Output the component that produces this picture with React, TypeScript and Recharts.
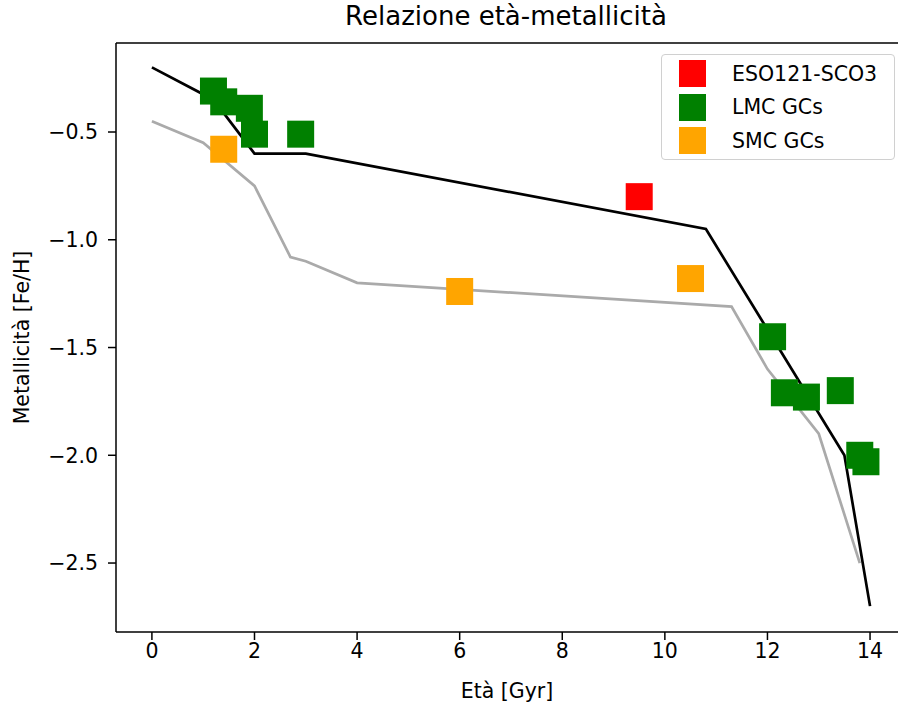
import { ComposedChart, Line, Scatter, XAxis, YAxis, Legend, ReferenceLine } from "recharts";

// relazione età-metallicità: modelli (linee) e ammassi osservati (quadrati)
const blackLine = [
  { x: 0, y: -0.2 },
  { x: 1.2, y: -0.35 },
  { x: 2, y: -0.6 },
  { x: 3, y: -0.6 },
  { x: 10.8, y: -0.95 },
  { x: 13.5, y: -2.0 },
  { x: 14, y: -2.7 },
];

const grayLine = [
  { x: 0, y: -0.45 },
  { x: 1, y: -0.55 },
  { x: 2, y: -0.75 },
  { x: 2.7, y: -1.08 },
  { x: 3, y: -1.1 },
  { x: 4, y: -1.2 },
  { x: 11.3, y: -1.31 },
  { x: 12, y: -1.6 },
  { x: 13, y: -1.9 },
  { x: 13.8, y: -2.5 },
];

const eso = [{ x: 9.5, y: -0.8 }];

const lmc = [
  { x: 1.2, y: -0.31 },
  { x: 1.4, y: -0.36 },
  { x: 1.9, y: -0.39 },
  { x: 2.0, y: -0.51 },
  { x: 2.9, y: -0.51 },
  { x: 12.1, y: -1.45 },
  { x: 12.33, y: -1.71 },
  { x: 12.76, y: -1.73 },
  { x: 13.42, y: -1.7 },
  { x: 13.8, y: -2.0 },
  { x: 13.92, y: -2.03 },
];

const smc = [
  { x: 1.4, y: -0.58 },
  { x: 6.0, y: -1.24 },
  { x: 10.5, y: -1.18 },
];

const xTicks = [0, 2, 4, 6, 8, 10, 12, 14];
const yTicks = [-2.5, -2.0, -1.5, -1.0, -0.5];

const series = [
  { name: "ESO121-SCO3", color: "#ff0000", data: eso },
  { name: "LMC GCs", color: "#008000", data: lmc },
  { name: "SMC GCs", color: "#ffa500", data: smc },
];

const xDomain = [-0.7, 14.545];
const yDomain = [-2.82, -0.087];

const font = "'DejaVu Sans', sans-serif";
const tickStyle = { fontSize: 20.5, fill: "#000", fontFamily: font };

const fmtY = (v: number) => (v < 0 ? "\u2212" : "") + Math.abs(v).toFixed(1);

const square = (color: string) => (p: any) => (
  <rect x={p.cx - 13.5} y={p.cy - 13.5} width={27} height={27} fill={color} />
);

const LegendBox = () => (
  <div
    style={{
      width: 234,
      height: 106,
      border: "1px solid #d0d0d0",
      borderRadius: 4,
      background: "rgba(255,255,255,0.8)",
      fontFamily: font,
      fontSize: 20.5,
      color: "#000",
      boxSizing: "border-box",
      paddingTop: 2,
    }}
  >
    {series.map((s) => (
      <div key={s.name} style={{ display: "flex", alignItems: "center", height: 33.5 }}>
        <div style={{ width: 27, height: 27, background: s.color, marginLeft: 17, marginRight: 26 }} />
        <span>{s.name}</span>
      </div>
    ))}
  </div>
);

const App = () => {
  return (
    <div style={{ position: "absolute", left: 0, top: 0, width: 898, height: 707 }}>
      <div
        style={{
          position: "absolute",
          top: 1,
          left: 106,
          width: 800,
          textAlign: "center",
          fontFamily: font,
          fontSize: 26,
          color: "#000",
        }}
      >
        Relazione età-metallicità
      </div>
      <ComposedChart width={898} height={707} margin={{ top: 43, right: 0, bottom: 0, left: 0 }}>
        <XAxis
          dataKey="x"
          type="number"
          domain={xDomain}
          allowDataOverflow
          ticks={xTicks}
          tick={tickStyle}
          tickSize={8}
          tickMargin={3}
          height={75}
          axisLine={{ stroke: "#000", strokeWidth: 1.5 }}
          tickLine={{ stroke: "#000", strokeWidth: 1.5 }}
          label={{ value: "Età [Gyr]", position: "insideBottom", offset: 9, style: tickStyle }}
        />
        <YAxis
          dataKey="y"
          type="number"
          domain={yDomain}
          allowDataOverflow
          ticks={yTicks}
          tickFormatter={fmtY}
          tick={tickStyle}
          tickSize={8}
          tickMargin={10}
          width={116}
          axisLine={{ stroke: "#000", strokeWidth: 1.5 }}
          tickLine={{ stroke: "#000", strokeWidth: 1.5 }}
          label={{
            value: "Metallicità [Fe/H]",
            angle: -90,
            position: "insideLeft",
            offset: 22,
            style: { ...tickStyle, textAnchor: "middle" },
          }}
        />
        <ReferenceLine y={yDomain[1]} stroke="#000" strokeWidth={1.5} />
        {series.map((s) => (
          <Scatter
            key={s.name}
            name={s.name}
            data={s.data}
            fill={s.color}
            shape={square(s.color)}
            isAnimationActive={false}
          />
        ))}
        <Line
          data={grayLine}
          dataKey="y"
          stroke="#aaaaaa"
          strokeWidth={2.7}
          dot={false}
          legendType="none"
          isAnimationActive={false}
        />
        <Line
          data={blackLine}
          dataKey="y"
          stroke="#000"
          strokeWidth={2.7}
          dot={false}
          legendType="none"
          isAnimationActive={false}
        />
        <Legend
          layout="vertical"
          align="center"
          verticalAlign="middle"
          wrapperStyle={{ left: 661, top: 54, width: 234, height: 106 }}
          content={() => <LegendBox />}
        />
      </ComposedChart>
    </div>
  );
};

export default App;
